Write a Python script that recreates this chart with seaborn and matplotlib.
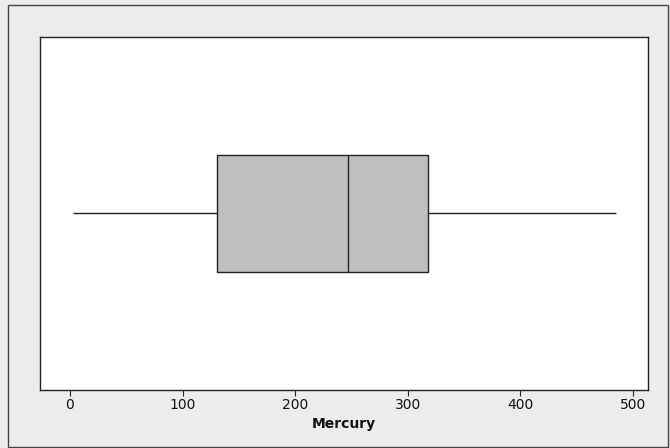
import matplotlib
matplotlib.use("Agg")
import matplotlib.pyplot as plt
from matplotlib.patches import Rectangle
import seaborn as sns
import pandas as pd

# Mercury readings (five-number summary values)
mercury = [2.7, 130.5, 247.0, 318.0, 485.0]
x_ticks = [0, 100, 200, 300, 400, 500]
x_label = "Mercury"

sns.set_theme(style="white")
plt.rcParams["font.family"] = ["DejaVu Sans"]

W, H = 670, 448
fig = plt.figure(figsize=(W / 100, H / 100), dpi=100, facecolor="#ececec")
ax = fig.add_axes([40 / W, 1 - 390 / H, (648 - 40) / W, (390 - 37) / H])
ax.set_facecolor("white")

df = pd.DataFrame({x_label: mercury})
sns.boxplot(
    data=df, x=x_label, ax=ax, width=0.334, whis=10,
    color="#bfbfbf", saturation=1, linecolor="#222222", linewidth=1.0,
    showcaps=False, fliersize=0,
)
for ln in ax.lines:
    ln.set_color("#222222")

ax.set_xlim(-26.6, 513.3)
ax.set_ylim(0.5, -0.5)
ax.set_yticks([])
ax.set_xticks(x_ticks)
ax.set_xticklabels([str(t) for t in x_ticks], fontsize=10, color="#111111")
ax.tick_params(axis="x", direction="out", length=4, width=0.8, color="#222222",
               bottom=True, pad=2)
ax.set_xlabel(x_label, fontsize=10, fontweight="bold", color="#111111", labelpad=3)
ax.set_ylabel("")
for sp in ax.spines.values():
    sp.set_visible(True)
    sp.set_color("#222222")
    sp.set_linewidth(1.0)

# outer frame around the graph region
fig.patches.append(Rectangle((8 / W, 1 / H), (668 - 8) / W, (443 - 1) / H,
                             transform=fig.transFigure, fill=False,
                             edgecolor="#444444", linewidth=1.0))

fig.savefig("out.png", dpi=100, facecolor=fig.get_facecolor())
